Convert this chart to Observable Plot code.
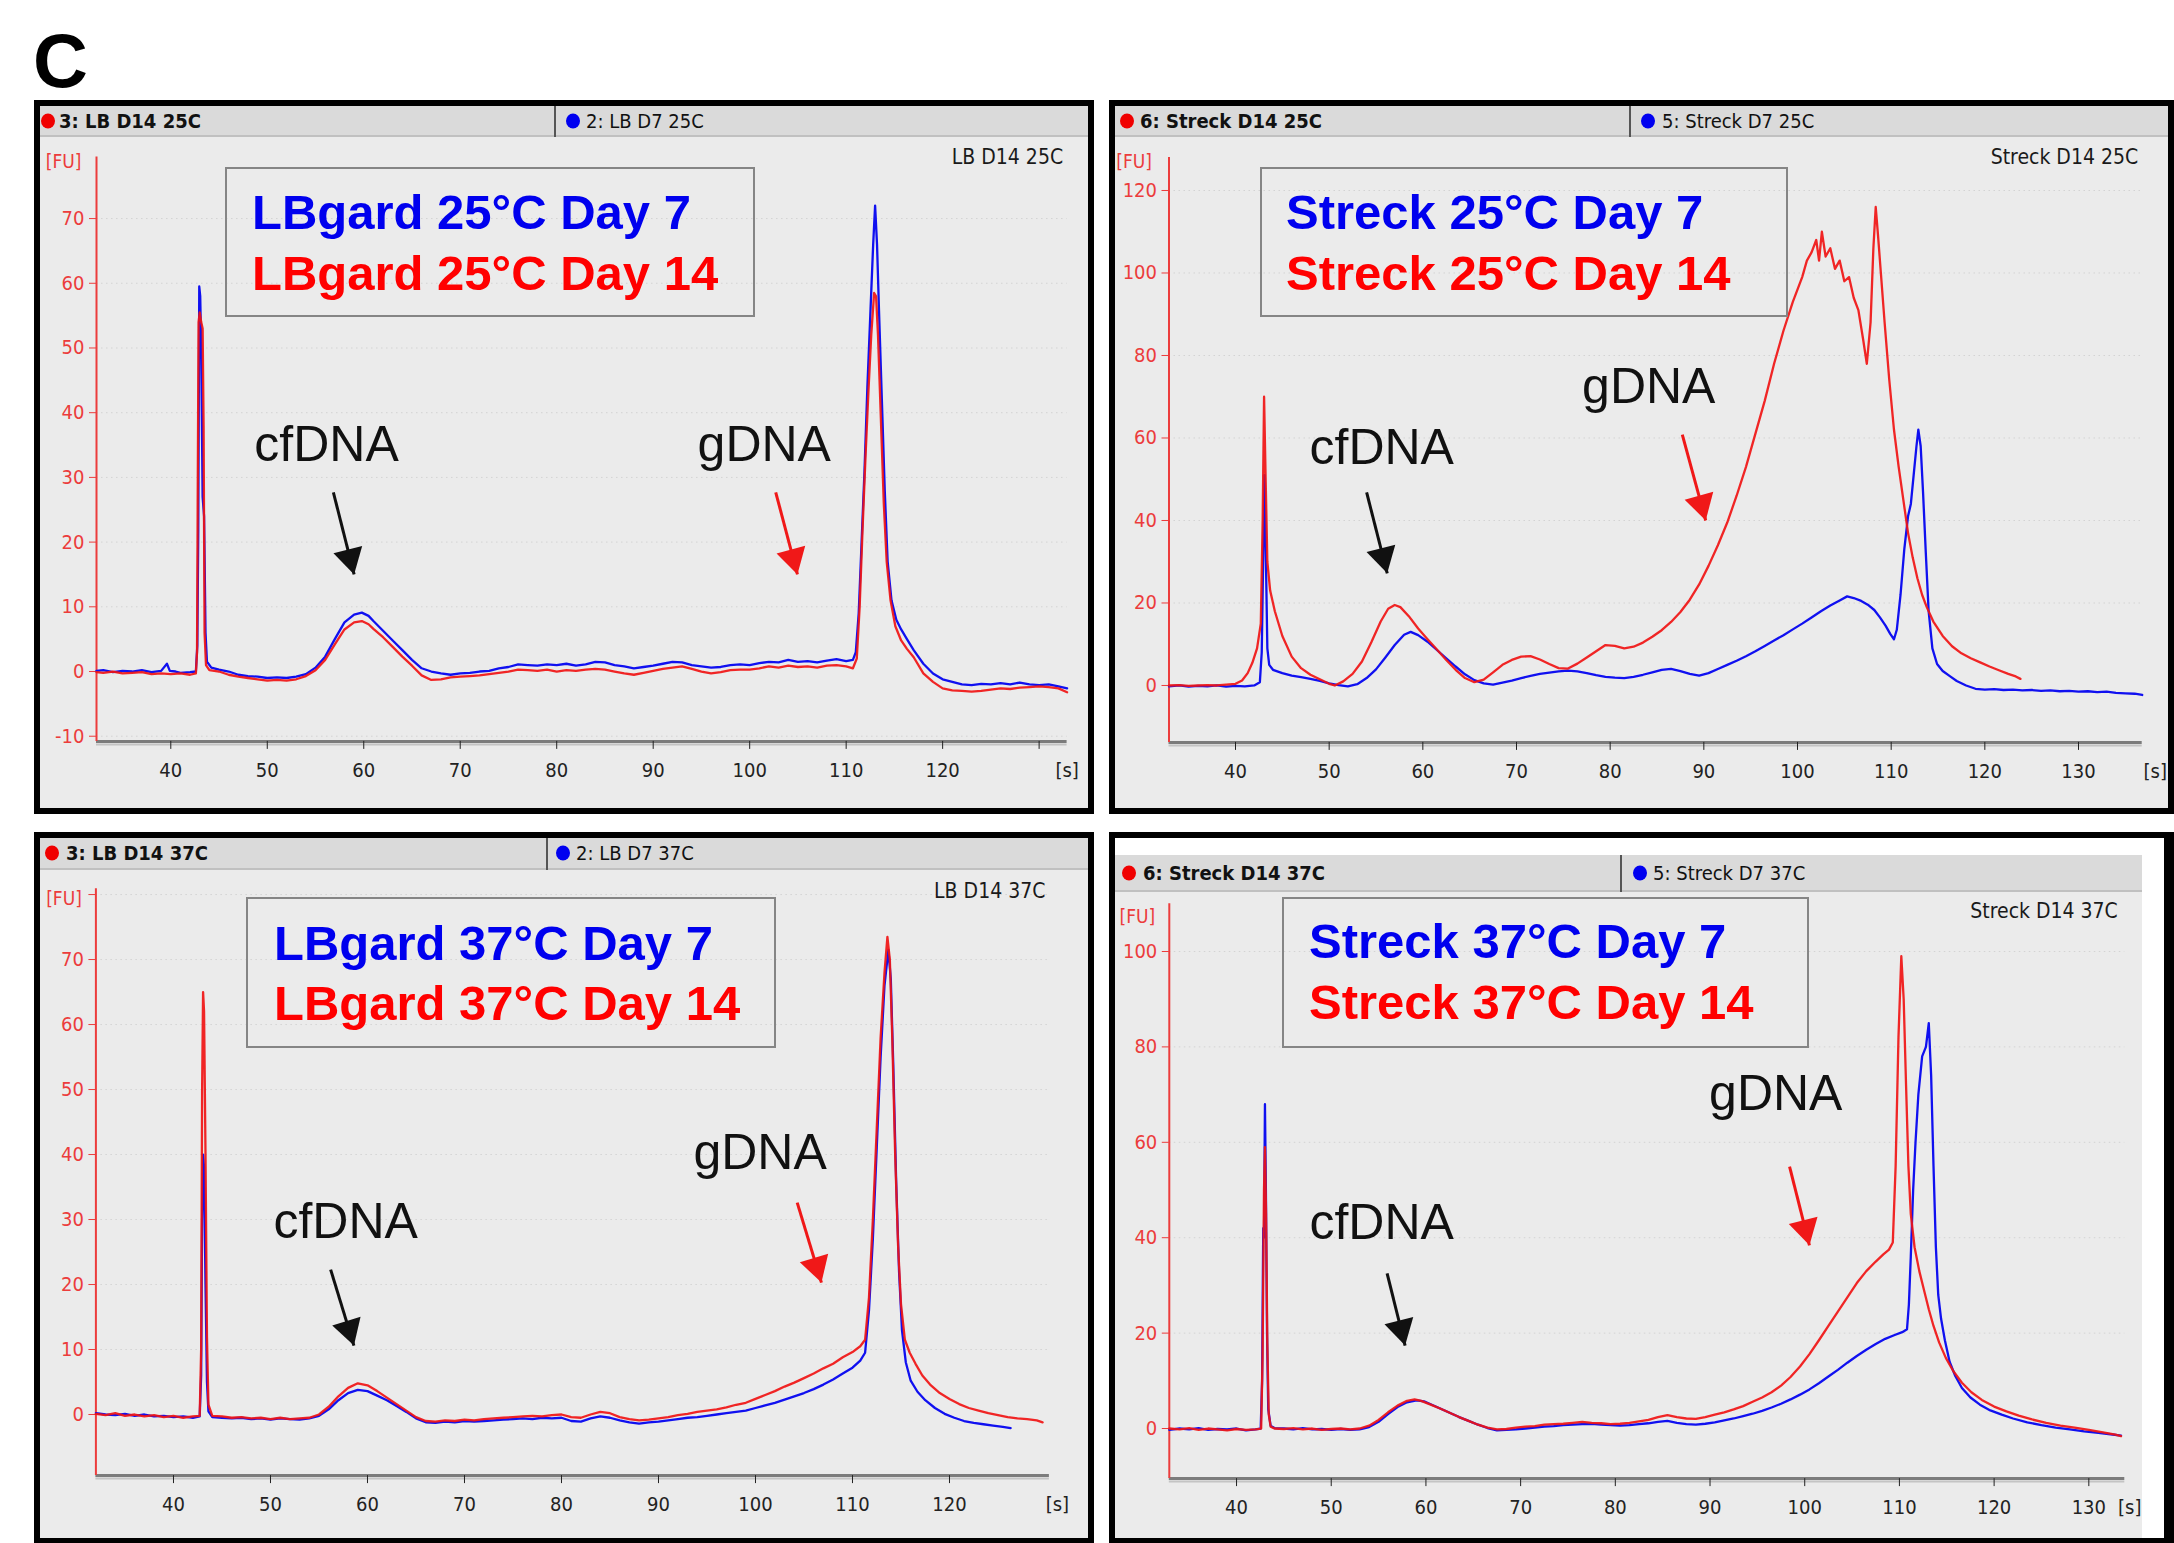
<!DOCTYPE html>
<html>
<head>
<meta charset="utf-8">
<script src="https://cdn.jsdelivr.net/npm/d3@7"></script>
<script src="https://cdn.jsdelivr.net/npm/@observablehq/plot@0.6"></script>
<style>
html, body { margin:0; padding:0; background:#fff; }
body { width:2174px; height:1543px; position:relative; overflow:hidden; }
.panel { position:absolute; box-sizing:border-box; border-style:solid; border-color:#000; overflow:hidden; }
.header { position:absolute; background:#dadada; border-bottom:2px solid #c0c0c0; box-sizing:border-box;
  font-family:"DejaVu Sans Condensed","DejaVu Sans",sans-serif; font-stretch:condensed; font-size:20px; color:#111; }
.header .lbl { position:absolute; top:50%; transform:translateY(-50%); white-space:nowrap; }
.header .dot { position:absolute; top:50%; transform:translateY(-50%); width:14px; height:15px; border-radius:50%; }
.header .sep { position:absolute; top:0; bottom:-3px; width:2px; background:#555; }
.plotwrap { position:absolute; }
.plotwrap svg { display:block; }
#overlay { position:absolute; left:0; top:0; pointer-events:none; }
</style>
</head>
<body>
<script>
// ---------------- colours ----------------
const RED = "#f01414", BLUE = "#1010f0", AXIS_RED = "#ec3c3c", ARROW_RED = "#f01818";

// ---------------- data: LB 25°C (time [s], fluorescence [FU]) ----------------
const lb25_d7 = [[32.3,0.1],[33,0.2],[34,-0.1],[35,0.1],[36,0],[37,0.2],[38,-0.1],[39,0.1],[39.6,1.2],[39.9,0.1],[40.5,0],[41,-0.2],[42,-0.1],[42.6,0],[42.75,4],[42.85,22],[42.95,59.5],[43.05,58],[43.15,50],[43.3,27],[43.45,24],[43.6,6],[43.75,1.5],[44.2,0.6],[45,0.3],[46,0],[47,-0.5],[48,-0.7],[49,-0.8],[50,-1.0],[51,-0.9],[52,-1.0],[53,-0.8],[54,-0.4],[55,0.6],[56,2.3],[57,5],[58,7.6],[59,8.8],[59.8,9.1],[60.5,8.6],[61,7.8],[62,6.3],[63,4.8],[64,3.3],[65,1.8],[66,0.5],[67,0],[68,-0.3],[69,-0.5],[70,-0.3],[71,-0.2],[72,0],[73,0.1],[74,0.5],[75,0.7],[76,1.1],[77,1.0],[78,0.9],[79,1.1],[80,1.0],[81,1.2],[82,0.9],[83,1.1],[84,1.5],[85,1.4],[86,1.0],[87,0.8],[88,0.5],[89,0.7],[90,0.9],[91,1.2],[92,1.5],[93,1.4],[94,1.0],[95,0.8],[96,0.6],[97,0.7],[98,1.0],[99,1.1],[100,1.0],[101,1.3],[102,1.5],[103,1.4],[104,1.8],[105,1.5],[106,1.6],[107,1.4],[108,1.7],[109,1.9],[110,1.6],[110.7,1.8],[111.0,3],[111.3,9],[111.6,20],[111.9,31],[112.2,44],[112.5,55],[112.8,66],[113.0,72],[113.2,66],[113.4,56],[113.7,42],[114.0,28],[114.3,17],[114.7,11],[115.2,8],[115.7,6.5],[116.3,5],[117,3.3],[118,1.2],[119,-0.3],[120,-1.2],[121,-1.6],[122,-2.0],[123,-2.1],[124,-1.9],[125,-2.0],[126,-1.8],[127,-2.0],[128,-1.7],[129,-2.0],[130,-2.1],[131,-2.0],[132,-2.3],[132.9,-2.6]];
const lb25_d14 = [[32.3,-0.1],[33,-0.2],[34,0],[35,-0.3],[36,-0.2],[37,-0.1],[38,-0.4],[39,-0.3],[40,-0.4],[41,-0.3],[42,-0.5],[42.6,-0.3],[42.72,3],[42.8,30],[42.88,54],[43.0,55.5],[43.15,54],[43.3,53],[43.4,38],[43.5,6],[43.65,1],[44,0.2],[45,0],[46,-0.5],[47,-0.8],[48,-1.0],[49,-1.2],[50,-1.4],[51,-1.3],[52,-1.4],[53,-1.2],[54,-0.7],[55,0.2],[56,1.8],[57,4.2],[58,6.5],[59,7.6],[59.8,7.8],[60.5,7.3],[61,6.6],[62,5.3],[63,3.8],[64,2.3],[65,0.9],[66,-0.6],[67,-1.3],[68,-1.2],[69,-0.9],[70,-0.8],[71,-0.7],[72,-0.6],[73,-0.4],[74,-0.2],[75,0],[76,0.3],[77,0.2],[78,0.1],[79,0.3],[80,0],[81,0.2],[82,0.1],[83,0.3],[84,0.4],[85,0.3],[86,0],[87,-0.3],[88,-0.5],[89,-0.2],[90,0.1],[91,0.4],[92,0.6],[93,0.8],[94,0.4],[95,0],[96,-0.3],[97,-0.1],[98,0.2],[99,0.3],[100,0.3],[101,0.5],[102,0.8],[103,0.6],[104,0.9],[105,0.7],[106,0.8],[107,0.6],[108,0.9],[109,1.0],[110,0.8],[110.7,0.5],[111.1,2],[111.4,10],[111.7,22],[112.0,33],[112.3,43],[112.6,52],[112.9,58.5],[113.1,58],[113.3,52],[113.6,39],[113.9,26],[114.2,17],[114.6,11],[115.1,7],[115.7,4.8],[116.3,3.5],[117,2.2],[118,-0.3],[119,-1.6],[120,-2.6],[121,-2.9],[122,-3.0],[123,-3.1],[124,-3.0],[125,-2.8],[126,-2.6],[127,-2.7],[128,-2.5],[129,-2.4],[130,-2.3],[131,-2.4],[132,-2.6],[132.9,-3.2]];

// ---------------- data: Streck 25°C ----------------
const streck25_d7 = [[32.9,-0.2],[34,0],[35,-0.3],[36,-0.1],[37,-0.2],[38,0],[39,-0.3],[40,-0.1],[41,-0.2],[42,0],[42.6,0.8],[42.8,8],[42.95,30],[43.1,51],[43.25,30],[43.4,9],[43.6,5],[44,3.8],[45,3.0],[46,2.4],[47,2.0],[48,1.6],[49,1.1],[50,0.5],[51,0.1],[52,-0.2],[53,0.3],[54,1.8],[55,3.9],[56,6.8],[57,9.8],[58,12.3],[58.7,13],[59.5,12.2],[60.5,10.6],[61.5,8.6],[62.5,6.6],[63.5,4.6],[64.5,2.7],[65.5,1.3],[66.5,0.5],[67.5,0.2],[68.5,0.7],[69.5,1.2],[70.5,1.8],[71.5,2.3],[72.5,2.8],[73.5,3.1],[74.5,3.4],[75.5,3.6],[76.5,3.4],[77.5,3.0],[78.5,2.5],[79.5,2.1],[80.5,1.9],[81.5,1.8],[82.5,2.1],[83.5,2.6],[84.5,3.2],[85.5,3.8],[86.5,4.0],[87.5,3.5],[88.5,2.8],[89.5,2.4],[90.5,3.0],[91.5,4.0],[92.5,5.0],[93.5,6.0],[94.5,7.1],[95.5,8.3],[96.5,9.6],[97.5,10.9],[98.5,12.2],[99.5,13.6],[100.5,15.0],[101.5,16.5],[102.5,18.0],[103.5,19.4],[104.5,20.6],[105.3,21.6],[106,21.2],[106.8,20.5],[107.5,19.6],[108.2,18.3],[108.8,16.5],[109.4,14.5],[109.9,12.5],[110.3,11.2],[110.6,13.5],[111.0,22],[111.4,33],[111.8,41],[112.1,44],[112.4,51],[112.7,58],[112.9,62],[113.15,58],[113.4,47],[113.7,32],[114.0,18],[114.4,9],[114.9,5.2],[115.5,3.5],[116.3,2.2],[117,1.1],[118,0],[119,-0.8],[120,-1.0],[121,-0.9],[122,-1.1],[123,-1.0],[124,-1.2],[125,-1.1],[126,-1.3],[127,-1.2],[128,-1.4],[129,-1.3],[130,-1.5],[131,-1.4],[132,-1.6],[133,-1.5],[134,-1.8],[135,-1.9],[136,-2.0],[136.8,-2.3]];
const streck25_d14 = [[32.9,0],[34,0.1],[35,-0.1],[36,0],[37,0.1],[38,0],[39,0.2],[40,0.4],[40.7,1.2],[41.3,3],[41.8,5.5],[42.3,9],[42.7,15],[42.9,40],[43.05,70],[43.2,52],[43.4,30],[43.7,23],[44.2,18],[45,12],[46,7],[47,4.2],[48,2.6],[49,1.5],[50,0.4],[50.6,0],[51.5,1],[52.5,2.8],[53.5,5.8],[54.5,10.5],[55.5,15.5],[56.3,18.6],[57,19.5],[57.6,19],[58.5,16.8],[59.5,13.8],[60.5,11.2],[61.5,8.7],[62.5,6.2],[63.5,3.8],[64.5,1.8],[65.5,0.8],[66.5,1.4],[67.5,3.2],[68.5,5],[69.5,6.2],[70.5,7],[71.5,7.1],[72.5,6.3],[73.5,5.2],[74.5,4.2],[75.5,4.1],[76.5,5.3],[77.5,6.8],[78.5,8.3],[79.5,9.8],[80.5,9.6],[81.5,9.0],[82.5,9.4],[83.5,10.4],[84.5,11.8],[85.5,13.4],[86.5,15.4],[87.5,17.8],[88.5,20.8],[89.5,24.5],[90.5,29],[91.5,34],[92.5,39.5],[93.5,46],[94.5,53],[95.5,61],[96.5,69],[97.5,78],[98.5,86],[99.5,93],[100.5,99],[101,103],[101.5,105],[102,108],[102.3,103],[102.6,110],[103,104],[103.5,106],[104,101],[104.5,103],[105,98],[105.5,99],[106,94],[106.5,91],[107,84],[107.4,78],[107.8,88],[108.1,106],[108.35,116],[108.6,109],[108.9,100],[109.3,88],[109.8,74],[110.3,62],[110.8,53],[111.3,45],[111.8,37],[112.3,31],[112.8,26],[113.3,22],[113.8,19],[114.5,15.5],[115.5,12],[116.5,9.5],[117.5,7.8],[118.5,6.6],[119.5,5.6],[120.5,4.6],[121.5,3.7],[122.5,2.8],[123.3,2.2],[123.8,1.6]];

// ---------------- data: LB 37°C ----------------
const lb37_d7 = [[32,0.2],[33,0],[34,-0.1],[35,0.1],[36,-0.2],[37,0],[38,-0.3],[39,-0.2],[40,-0.4],[41,-0.3],[42,-0.5],[42.7,-0.3],[42.85,6],[42.95,30],[43.05,40],[43.15,38],[43.3,20],[43.45,5],[43.6,0.5],[44,-0.4],[45,-0.5],[46,-0.6],[47,-0.5],[48,-0.7],[49,-0.6],[50,-0.8],[51,-0.6],[52,-0.7],[53,-0.8],[54,-0.6],[55,-0.2],[56,0.8],[57,2.2],[58,3.3],[59,3.8],[60,3.6],[61,2.9],[62,2.2],[63,1.3],[64,0.4],[65,-0.6],[66,-1.2],[67,-1.3],[68,-1.1],[69,-1.2],[70,-1.0],[71,-1.1],[72,-1.0],[73,-0.9],[74,-0.8],[75,-0.7],[76,-0.6],[77,-0.7],[78,-0.5],[79,-0.6],[80,-0.5],[81,-1.0],[82,-1.1],[83,-0.6],[84,-0.3],[85,-0.5],[86,-0.9],[87,-1.2],[88,-1.4],[89,-1.2],[90,-1.1],[91,-0.9],[92,-0.7],[93,-0.5],[94,-0.4],[95,-0.2],[96,0],[97,0.2],[98,0.4],[99,0.6],[100,1.0],[101,1.4],[102,1.8],[103,2.3],[104,2.8],[105,3.3],[106,3.9],[107,4.6],[108,5.4],[109,6.3],[110,7.2],[110.8,8.3],[111.3,9.5],[111.7,16],[112.1,27],[112.5,41],[112.9,55],[113.3,66],[113.7,71.5],[113.95,67],[114.2,54],[114.5,36],[114.8,22],[115.1,13],[115.5,8],[116,5.2],[116.7,3.5],[117.5,2.2],[118.5,1.0],[119.5,0.1],[120.5,-0.5],[121.5,-1.0],[122.5,-1.3],[123.5,-1.5],[124.5,-1.7],[125.5,-1.9],[126.3,-2.1]];
const lb37_d14 = [[32,0.1],[33,-0.1],[34,0.2],[35,-0.2],[36,0],[37,-0.3],[38,-0.1],[39,-0.4],[40,-0.2],[41,-0.5],[42,-0.3],[42.7,-0.2],[42.85,10],[42.95,50],[43.05,65],[43.15,62],[43.3,40],[43.45,12],[43.6,1.5],[44,-0.2],[45,-0.3],[46,-0.5],[47,-0.4],[48,-0.6],[49,-0.5],[50,-0.7],[51,-0.5],[52,-0.7],[53,-0.6],[54,-0.5],[55,0],[56,1.2],[57,2.8],[58,4.1],[59,4.8],[60,4.5],[61,3.6],[62,2.6],[63,1.6],[64,0.6],[65,-0.4],[66,-1.0],[67,-1.1],[68,-0.9],[69,-1.0],[70,-0.8],[71,-0.9],[72,-0.7],[73,-0.6],[74,-0.5],[75,-0.4],[76,-0.3],[77,-0.2],[78,-0.3],[79,-0.1],[80,0],[81,-0.4],[82,-0.5],[83,0],[84,0.4],[85,0.2],[86,-0.4],[87,-0.7],[88,-0.9],[89,-0.8],[90,-0.6],[91,-0.4],[92,-0.1],[93,0.1],[94,0.4],[95,0.6],[96,0.8],[97,1.1],[98,1.5],[99,1.8],[100,2.4],[101,3.0],[102,3.6],[103,4.3],[104,4.9],[105,5.6],[106,6.3],[107,7.1],[108,7.8],[109,8.8],[110,9.6],[110.8,10.5],[111.3,11.5],[111.7,18],[112.1,30],[112.5,44],[112.9,58],[113.3,68],[113.6,73.5],[113.85,70],[114.1,58],[114.4,40],[114.7,26],[115.0,17],[115.4,11.5],[115.9,9.5],[116.5,7.8],[117.2,6],[118,4.6],[119,3.3],[120,2.4],[121,1.6],[122,1.0],[123,0.6],[124,0.2],[125,-0.1],[126,-0.4],[127,-0.6],[128,-0.7],[129,-0.9],[129.6,-1.2]];

// ---------------- data: Streck 37°C ----------------
const streck37_d7 = [[32.9,-0.3],[34,0],[35,-0.2],[36,0.1],[37,-0.3],[38,-0.1],[39,-0.2],[40,0],[41,-0.4],[42,-0.2],[42.55,0],[42.7,10],[42.82,42],[42.9,40],[43.0,68],[43.1,50],[43.22,20],[43.35,4],[43.6,0.6],[44,0.1],[45,0],[46,-0.2],[47,0.1],[48,-0.2],[49,-0.1],[50,-0.3],[51,-0.1],[52,-0.3],[53,-0.2],[54,0.3],[55,1.4],[56,3.0],[57,4.5],[58,5.5],[59,5.9],[59.8,5.7],[60.5,5.1],[61.5,4.2],[62.5,3.3],[63.5,2.4],[64.5,1.6],[65.5,0.8],[66.5,0.1],[67.5,-0.4],[68.5,-0.3],[69.5,-0.2],[70.5,0],[71.5,0.2],[72.5,0.4],[73.5,0.5],[74.5,0.7],[75.5,0.8],[76.5,0.9],[77.5,1.0],[78.5,0.8],[79.5,0.7],[80.5,0.6],[81.5,0.7],[82.5,0.9],[83.5,1.1],[84.5,1.4],[85.5,1.6],[86.5,1.2],[87.5,0.9],[88.5,0.8],[89.5,1.0],[90.5,1.3],[91.5,1.7],[92.5,2.1],[93.5,2.6],[94.5,3.1],[95.5,3.7],[96.5,4.4],[97.5,5.2],[98.5,6.1],[99.5,7.1],[100.5,8.2],[101.5,9.5],[102.5,10.9],[103.5,12.3],[104.5,13.8],[105.5,15.2],[106.5,16.5],[107.5,17.7],[108.5,18.8],[109.5,19.6],[110.3,20.2],[110.8,20.8],[111.0,26],[111.2,36],[111.45,50],[111.7,60],[112.0,70],[112.4,78],[112.8,80],[113.1,85],[113.35,74],[113.6,55],[113.85,38],[114.1,28],[114.4,23],[114.8,18.5],[115.3,14],[115.9,11],[116.6,8.5],[117.5,6.5],[118.5,5],[119.6,3.8],[120.8,2.9],[122,2.1],[123.5,1.3],[125,0.7],[126.5,0.2],[128,-0.2],[129.5,-0.6],[131,-0.9],[132.3,-1.2],[133.4,-1.5]];
const streck37_d14 = [[32.9,0],[34,-0.2],[35,0.1],[36,-0.3],[37,0],[38,-0.2],[39,-0.4],[40,-0.1],[41,-0.3],[42,-0.2],[42.6,0],[42.75,15],[42.9,50],[43.0,59],[43.12,45],[43.25,18],[43.4,3],[43.6,0.4],[44,0],[45,-0.1],[46,0.1],[47,-0.2],[48,0],[49,-0.3],[50,-0.1],[51,0],[52,-0.2],[53,0],[54,0.6],[55,1.8],[56,3.4],[57,4.8],[58,5.8],[58.8,6.1],[59.5,5.8],[60.5,5.0],[61.5,4.2],[62.5,3.3],[63.5,2.4],[64.5,1.6],[65.5,0.8],[66.5,0.2],[67.5,-0.2],[68.5,-0.1],[69.5,0.2],[70.5,0.4],[71.5,0.5],[72.5,0.8],[73.5,0.9],[74.5,1.0],[75.5,1.2],[76.5,1.4],[77.5,1.2],[78.5,1.1],[79.5,0.9],[80.5,1.0],[81.5,1.2],[82.5,1.5],[83.5,1.8],[84.5,2.4],[85.5,2.8],[86.5,2.4],[87.5,2.1],[88.5,2.0],[89.5,2.4],[90.5,2.9],[91.5,3.4],[92.5,4.0],[93.5,4.7],[94.5,5.6],[95.5,6.5],[96.5,7.6],[97.5,9.0],[98.5,10.8],[99.5,13.0],[100.5,15.6],[101.5,18.5],[102.5,21.5],[103.5,24.5],[104.5,27.5],[105.5,30.5],[106.5,33],[107.5,35],[108.3,36.5],[108.9,37.5],[109.3,39],[109.6,55],[109.9,82],[110.2,99],[110.45,90],[110.7,72],[110.95,55],[111.2,45],[111.6,38],[112.1,33],[112.6,29],[113.1,25],[113.6,21.5],[114.2,18],[114.9,14.8],[115.7,12],[116.6,9.6],[117.6,7.6],[118.7,6],[120,4.6],[121.3,3.6],[122.6,2.7],[124,1.9],[125.5,1.2],[127,0.6],[128.5,0.2],[130,-0.3],[131.5,-0.8],[132.8,-1.3],[133.4,-1.6]];

// ---------------- ticks ----------------
const lb25_yticks = [-10,0,10,20,30,40,50,60,70];
const streck25_yticks = [0,20,40,60,80,100,120];
const lb37_yticks = [0,10,20,30,40,50,60,70,80];
const lb37_ylabels = [0,10,20,30,40,50,60,70];
const streck37_yticks = [0,20,40,60,80,100];
const xticks_to130 = [40,50,60,70,80,90,100,110,120,130];
const xticks_to120 = [40,50,60,70,80,90,100,110,120];

// ---------------- annotations (data coordinates) ----------------
const lb25_notes = [{label:"cfDNA", t:48.66, v:32.5}, {label:"gDNA", t:94.6, v:32.5}];
const lb25_arrows = [{t1:56.85, v1:27.7, t2:59.0, v2:15.0, kind:"cf"}, {t1:102.7, v1:27.7, t2:104.95, v2:15.0, kind:"g"}];
const streck25_notes = [{label:"cfDNA", t:47.9, v:53.6}, {label:"gDNA", t:77.0, v:68.6}];
const streck25_arrows = [{t1:54.0, v1:46.8, t2:56.2, v2:27.2, kind:"cf"}, {t1:87.7, v1:60.8, t2:90.2, v2:40.0, kind:"g"}];
const lb37_notes = [{label:"cfDNA", t:50.3, v:27.1}, {label:"gDNA", t:93.6, v:37.7}];
const lb37_arrows = [{t1:56.2, v1:22.3, t2:58.6, v2:10.6, kind:"cf"}, {t1:104.3, v1:32.6, t2:106.8, v2:20.3, kind:"g"}];
const streck37_notes = [{label:"cfDNA", t:47.7, v:39.8}, {label:"gDNA", t:89.9, v:66.7}];
const streck37_arrows = [{t1:55.9, v1:32.5, t2:57.8, v2:17.4, kind:"cf"}, {t1:98.4, v1:54.9, t2:100.5, v2:38.4, kind:"g"}];

// ---------------- layout (page pixels) ----------------
const panels = [
  {d7: lb25_d7, d14: lb25_d14, xDomain:[32.3,132.9], yDomain:[-10.8,79.5],
   yTicks: lb25_yticks, yLabels: lb25_yticks, xTicks: xticks_to130, xLabels: xticks_to120,
   notes: lb25_notes, arrows: lb25_arrows,
   head:["3: LB D14 25C","2: LB D7 25C"], sample:"LB D14 25C", legend:["LBgard 25°C Day 7","LBgard 25°C Day 14"],
   outer:[34,100,1094,814], border:[6,6,6,6], bg:"#ebebeb", header:[40,106,1088,137], plot:[40,137,1088,808],
   xRange:[96,1066.6], yRange:[740.9,156.6], redDot:48, redText:59, sep:554, blueDot:573, blueText:586,
   legendBox:[226,168,754,316], legendX:252, legendY:[229,290], sDx:0, sampleDx:-4, sampleDy:7, fuDx:-15, fuDy:-3},
  {d7: streck25_d7, d14: streck25_d14, xDomain:[32.9,136.8], yDomain:[-13.8,128],
   yTicks: streck25_yticks, yLabels: streck25_yticks, xTicks: xticks_to130, xLabels: xticks_to130,
   notes: streck25_notes, arrows: streck25_arrows,
   head:["6: Streck D14 25C","5: Streck D7 25C"], sample:"Streck D14 25C", legend:["Streck 25°C Day 7","Streck 25°C Day 14"],
   outer:[1109,100,2174,814], border:[6,6,6,6], bg:"#ebebeb", header:[1115,106,2168,137], plot:[1115,137,2168,808],
   xRange:[1168.5,2141.7], yRange:[741.9,157], redDot:1127, redText:1140, sep:1629, blueDot:1648, blueText:1662,
   legendBox:[1261,168,1787,316], legendX:1286, legendY:[229,290], sDx:13, sampleDx:-4, sampleDy:6, fuDx:-17, fuDy:-3},
  {d7: lb37_d7, d14: lb37_d14, xDomain:[32.0,130.3], yDomain:[-9.4,80.9],
   yTicks: lb37_yticks, yLabels: lb37_ylabels, xTicks: xticks_to120, xLabels: xticks_to120,
   notes: lb37_notes, arrows: lb37_arrows,
   head:["3: LB D14 37C","2: LB D7 37C"], sample:"LB D14 37C", legend:["LBgard 37°C Day 7","LBgard 37°C Day 14"],
   outer:[34,832,1094,1543], border:[6,6,5,6], bg:"#ebebeb", header:[40,838,1088,870], plot:[40,870,1088,1538],
   xRange:[95.4,1048.9], yRange:[1475.1,888.2], redDot:52, redText:66, sep:546, blueDot:563, blueText:576,
   legendBox:[247,898,775,1047], legendX:274, legendY:[960,1020], sDx:8, sampleDx:-4, sampleDy:9, fuDx:-14, fuDy:3},
  {d7: streck37_d7, d14: streck37_d14, xDomain:[32.9,133.8], yDomain:[-10.5,110],
   yTicks: streck37_yticks, yLabels: streck37_yticks, xTicks: xticks_to130, xLabels: xticks_to130,
   notes: streck37_notes, arrows: streck37_arrows,
   head:["6: Streck D14 37C","5: Streck D7 37C"], sample:"Streck D14 37C", legend:["Streck 37°C Day 7","Streck 37°C Day 14"],
   outer:[1109,832,2174,1543], border:[6,10,5,6], bg:"#ffffff", header:[1115,855,2142,892], plot:[1115,892,2142,1538],
   xRange:[1168.8,2124.3], yRange:[1478.1,903.3], redDot:1129, redText:1143, sep:1620, blueDot:1640, blueText:1653,
   legendBox:[1283,898,1808,1047], legendX:1309, legendY:[958,1019], sDx:5, sampleDx:-7, sampleDy:14, fuDx:-14, fuDy:6}
];

const CONDENSED = '"DejaVu Sans Condensed","DejaVu Sans",sans-serif';

function buildPanel(p) {
  const [ox0, oy0, ox1, oy1] = p.outer;
  const [bt, br, bb, bl] = p.border;
  const ix = ox0 + bl, iy = oy0 + bt;
  const panel = document.createElement("div");
  panel.className = "panel";
  Object.assign(panel.style, {left: ox0 + "px", top: oy0 + "px", width: (ox1 - ox0) + "px", height: (oy1 - oy0) + "px",
    borderWidth: `${bt}px ${br}px ${bb}px ${bl}px`, background: p.bg});
  document.body.appendChild(panel);

  // header strip
  const h = document.createElement("div");
  h.className = "header";
  const [hx0, hy0, hx1, hy1] = p.header;
  Object.assign(h.style, {left: (hx0 - ix) + "px", top: (hy0 - iy) + "px", width: (hx1 - hx0) + "px", height: (hy1 - hy0) + "px"});
  h.innerHTML =
    `<span class="dot" style="left:${p.redDot - hx0 - 7}px;background:#f00000"></span>` +
    `<span class="lbl" style="left:${p.redText - hx0}px;font-weight:bold">${p.head[0]}</span>` +
    `<span class="sep" style="left:${p.sep - hx0}px"></span>` +
    `<span class="dot" style="left:${p.blueDot - hx0 - 7}px;background:#0000f0"></span>` +
    `<span class="lbl" style="left:${p.blueText - hx0}px">${p.head[1]}</span>`;
  panel.appendChild(h);

  // plot
  const [px0, py0, px1, py1] = p.plot;
  const width = px1 - px0, height = py1 - py0;
  const xs = d3.scaleLinear(p.xDomain, p.xRange);
  const ys = d3.scaleLinear(p.yDomain, p.yRange);
  const rows = (pairs) => pairs.map(([t, v]) => ({t, v}));

  const arrowMarks = p.arrows.flatMap((a) => {
    const color = a.kind === "g" ? ARROW_RED : "#111";
    const dxp = xs(a.t2) - xs(a.t1), dyp = ys(a.v2) - ys(a.v1);
    const len = Math.hypot(dxp, dyp), ux = dxp / len, uy = dyp / len;
    const R = 11, back = 2 * 0.7776 * R;
    const ang = Math.atan2(ux, -uy) * 180 / Math.PI;
    return [
      Plot.link([a], {x1: "t1", y1: "v1", x2: "t2", y2: "v2", stroke: color, strokeWidth: 3}),
      Plot.dot([a], {x: "t2", y: "v2", symbol: "triangle", r: R, fill: color, stroke: "none", rotate: ang, dx: -back * ux, dy: -back * uy})
    ];
  });

  const chart = Plot.plot({
    width, height,
    marginLeft: p.xRange[0] - px0, marginRight: px1 - p.xRange[1],
    marginTop: p.yRange[1] - py0, marginBottom: py1 - p.yRange[0],
    x: {domain: p.xDomain},
    y: {domain: p.yDomain},
    style: {background: "#ebebeb", fontFamily: CONDENSED, overflow: "visible"},
    marks: [
      Plot.ruleY(p.yTicks.filter(d => d !== 0), {stroke: "#d3d3d3", strokeDasharray: "1.5,3.5"}),
      Plot.ruleY([p.yDomain[0]], {stroke: "#7c7c7c", strokeWidth: 3}),
      Plot.ruleY([p.yDomain[0]], {stroke: "#c4c4c4", strokeWidth: 2, dy: 3}),
      Plot.axisX({ticks: p.xTicks, tickSize: 8, tickPadding: 13, color: "#222", fontSize: 20,
        tickFormat: (d) => p.xLabels.includes(d) ? String(d) : ""}),
      Plot.text(["[s]"], {frameAnchor: "bottom-right", text: (d) => d, textAnchor: "middle", lineAnchor: "top",
        dx: p.sDx, dy: 21, fontSize: 20, fill: "#222"}),
      Plot.ruleX([p.xDomain[0]], {stroke: AXIS_RED, strokeWidth: 2}),
      Plot.axisY({ticks: p.yTicks, tickSize: 7, tickPadding: 5, color: AXIS_RED, fontSize: 20,
        tickFormat: (d) => p.yLabels.includes(d) ? String(d) : ""}),
      Plot.text(["[FU]"], {frameAnchor: "top-left", text: (d) => d, textAnchor: "end", dx: p.fuDx, dy: p.fuDy,
        fontSize: 19, fill: AXIS_RED}),
      Plot.text([p.sample], {frameAnchor: "top-right", text: (d) => d, textAnchor: "end", lineAnchor: "bottom",
        dx: p.sampleDx, dy: p.sampleDy, fontSize: 21, fill: "#1a1a1a"}),
      Plot.line(rows(p.d7), {x: "t", y: "v", stroke: BLUE, strokeWidth: 2.3}),
      Plot.line(rows(p.d14), {x: "t", y: "v", stroke: RED, strokeWidth: 2.3, strokeOpacity: 0.92}),
      Plot.text(p.notes, {x: "t", y: "v", text: "label", textAnchor: "start", lineAnchor: "bottom",
        fontSize: 50, fontFamily: '"Liberation Sans", Arial, sans-serif', fill: "#111"}),
      ...arrowMarks
    ]
  });
  const wrap = document.createElement("div");
  wrap.className = "plotwrap";
  Object.assign(wrap.style, {left: (px0 - ix) + "px", top: (py0 - iy) + "px"});
  wrap.appendChild(chart);
  panel.appendChild(wrap);
}

panels.forEach(buildPanel);

// ---------------- overlay: panel letter and in-plot legends ----------------
const overlay = d3.select("body").append("svg").attr("id", "overlay")
  .attr("width", 2174).attr("height", 1543)
  .style("font-family", '"Liberation Sans", Arial, sans-serif');
overlay.append("text").attr("x", 33).attr("y", 87).attr("font-size", 76).attr("font-weight", "bold")
  .attr("fill", "#000").text("C");
panels.forEach((p) => {
  const [x0, y0, x1, y1] = p.legendBox;
  overlay.append("rect").attr("x", x0).attr("y", y0).attr("width", x1 - x0).attr("height", y1 - y0)
    .attr("fill", "none").attr("stroke", "#858585").attr("stroke-width", 2);
  overlay.append("text").attr("x", p.legendX).attr("y", p.legendY[0]).attr("font-size", 49).attr("font-weight", "bold")
    .attr("fill", "#0000ee").text(p.legend[0]);
  overlay.append("text").attr("x", p.legendX).attr("y", p.legendY[1]).attr("font-size", 49).attr("font-weight", "bold")
    .attr("fill", "#ff0000").text(p.legend[1]);
});
</script>
</body>
</html>
